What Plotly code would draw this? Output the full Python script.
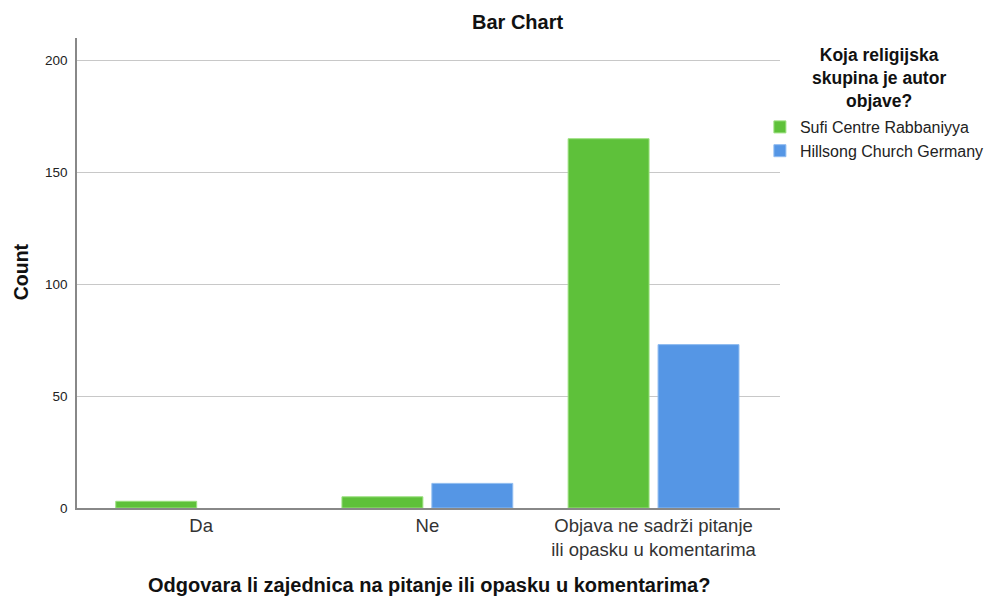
import plotly.graph_objects as go

categories = ["Da", "Ne", "Objava ne sadrži pitanje<br>ili opasku u komentarima"]
series_names = ["Sufi Centre Rabbaniyya", "Hillsong Church Germany"]
sufi_values = [3, 5, 165]
hillsong_values = [None, 11, 73]
y_ticks = [0, 50, 100, 150, 200]

colors = ["#5ec13a", "#5596e5"]
outline = ["#9be07f", "#8fbcf0"]

# the capture squeezes the page horizontally by ~0.985; compensate
SX = 1001 / 986
W, H = 1001, 597
L, R, T, B = round(76 * SX), round(780 * SX), 38, 508

fig = go.Figure()
xs = list(range(len(categories)))
for name, vals, c, oc in zip(series_names, [sufi_values, hillsong_values], colors, outline):
    fig.add_trace(go.Bar(
        x=xs, y=vals, name=name,
        marker=dict(color=c, line=dict(color=oc, width=1)),
    ))


def px(x_screen):
    return (x_screen * SX - L) / (R - L)


def py(y_screen):
    return 1 - (y_screen - T) / (B - T)


FONT = "Liberation Sans, Arial, sans-serif"

fig.update_layout(
    width=W, height=H,
    margin=dict(l=L, r=W - R, t=T, b=H - B, pad=0),
    paper_bgcolor="white", plot_bgcolor="white",
    barmode="group", bargap=0.205, bargroupgap=0.1,
    font=dict(family=FONT, color="#222"),
    showlegend=True,
    legend=dict(
        x=px(760), y=py(110),
        xanchor="left", yanchor="top",
        font=dict(size=16, color="#222"),
        itemwidth=30, tracegroupgap=0, bgcolor="rgba(0,0,0,0)",
        traceorder="normal",
    ),
)
fig.update_xaxes(
    range=[-0.549, 2.559],
    tickvals=xs, ticktext=categories,
    showline=True, linecolor="#888", linewidth=1.5,
    showgrid=False, zeroline=False, ticks="",
    tickfont=dict(size=18.5, color="#333"),
)
fig.update_yaxes(
    range=[0, 210],
    tickvals=y_ticks,
    showline=True, linecolor="#888", linewidth=1.5,
    showgrid=True, gridcolor="#c8c8c8", gridwidth=1,
    zeroline=False, ticks="",
    tickfont=dict(size=13.5, color="#222"),
    ticklabelstandoff=5,
)

fig.add_annotation(text="<b>Bar Chart</b>", x=px(517), y=py(22), xref="paper", yref="paper",
                   showarrow=False, font=dict(size=20, color="#111"), xanchor="center", yanchor="middle")
fig.add_annotation(text="<b>Odgovara li zajednica na pitanje ili opasku u komentarima?</b>",
                   x=px(428), y=py(585), xref="paper", yref="paper",
                   showarrow=False, font=dict(size=20, color="#111"), xanchor="center", yanchor="middle")
fig.add_annotation(text="<b>Count</b>", x=px(20), y=py(272), xref="paper", yref="paper",
                   showarrow=False, textangle=-90, font=dict(size=19.5, color="#111"),
                   xanchor="center", yanchor="middle")
fig.add_annotation(text="<b>Koja religijska<br>skupina je autor<br>objave?</b>",
                   x=px(879), y=py(78), xref="paper", yref="paper",
                   showarrow=False, align="center", font=dict(size=17.5, color="#111"),
                   xanchor="center", yanchor="middle")

fig.write_html(
    "out.html",
    config={"displayModeBar": False},
    post_script="document.body.style.margin='0';document.body.style.overflow='hidden';",
)
